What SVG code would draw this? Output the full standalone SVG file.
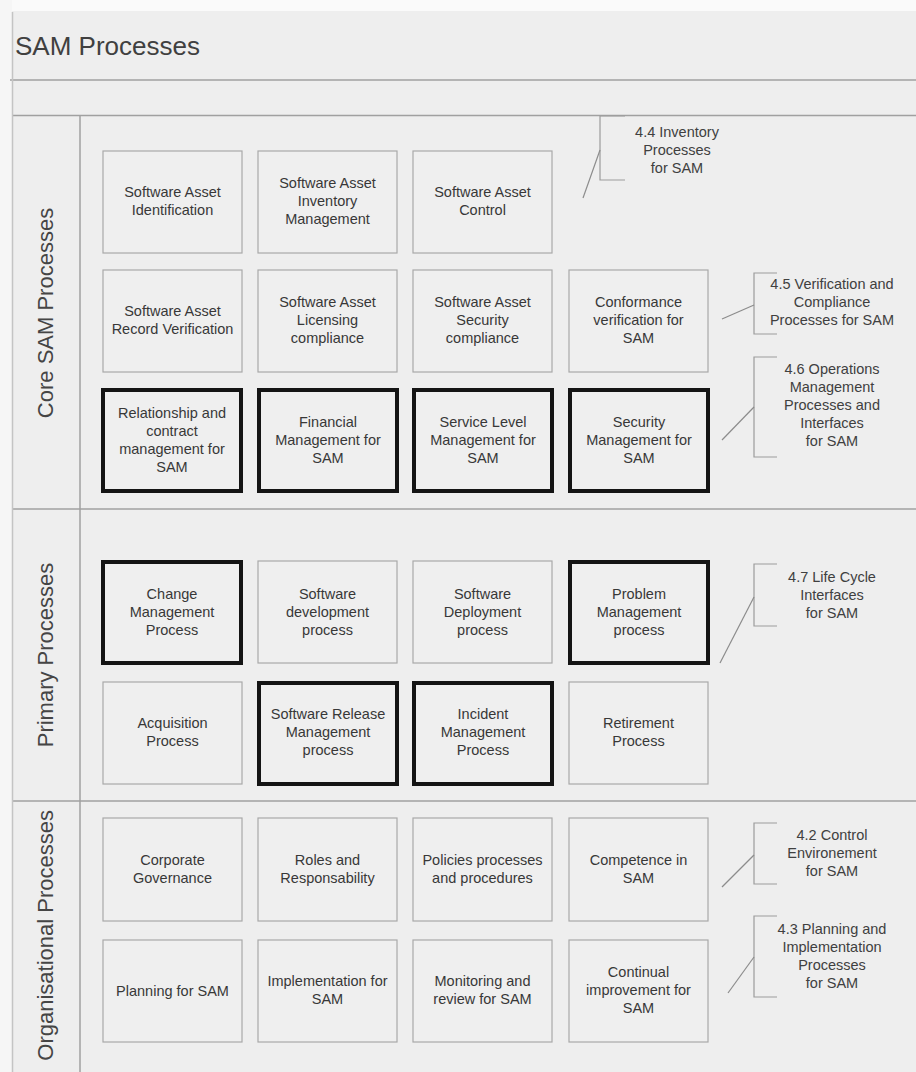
<svg xmlns="http://www.w3.org/2000/svg" width="916" height="1072" viewBox="0 0 916 1072">
<style>
  text { font-family: "Liberation Sans", Arial, sans-serif; }
  .title { font-size: 26px; fill: #404040; }
  .sec { font-size: 22px; fill: #454545; text-anchor: middle; }
  .frame { stroke: #a0a0a0; stroke-width: 1.5; fill: none; }
  .box { fill: #efefef; stroke: #a9a9a9; stroke-width: 1.2; }
  .bold { fill: #efefef; stroke: #141414; stroke-width: 4; }
  .lbl { font-size: 14.5px; fill: #383838; text-anchor: middle; }
  .ann { font-size: 14.5px; fill: #404040; text-anchor: middle; }
  .brk { stroke: #9c9c9c; stroke-width: 1.2; fill: none; }
  .conn { stroke: #8c8c8c; stroke-width: 1.2; fill: none; }
</style>
<rect x="0" y="0" width="916" height="1072" fill="#eeeeee"/>
<rect x="0" y="0" width="916" height="11" fill="#fafafa"/>
<rect x="0" y="0" width="12" height="1072" fill="#f6f6f6"/>

<g id="frame">
  <text class="title" x="15" y="55">SAM Processes</text>
  <line class="frame" x1="10" y1="80" x2="916" y2="80"/>
  <line class="frame" x1="12" y1="115.5" x2="916" y2="115.5"/>
  <line class="frame" x1="12" y1="509" x2="916" y2="509"/>
  <line class="frame" x1="12" y1="801" x2="916" y2="801"/>
  <line class="frame" x1="12.5" y1="12" x2="12.5" y2="1072" style="stroke:#c4c4c4"/>
  <line class="frame" x1="80" y1="115" x2="80" y2="1072"/>
</g>

<g id="sections">
  <text class="sec" transform="translate(53,313) rotate(-90)">Core SAM Processes</text>
  <text class="sec" transform="translate(53,655) rotate(-90)">Primary Processes</text>
  <text class="sec" style="text-anchor:end" transform="translate(53,810) rotate(-90)">Organisational Processes</text>
</g>

<!-- Core SAM Processes -->
<g id="n-sa-identification"><rect class="box" x="103" y="151" width="139" height="102"/>
  <text class="lbl" x="172.5" y="197">Software Asset</text><text class="lbl" x="172.5" y="215">Identification</text></g>
<g id="n-sa-inventory"><rect class="box" x="258" y="151" width="139" height="102"/>
  <text class="lbl" x="327.5" y="188">Software Asset</text><text class="lbl" x="327.5" y="206">Inventory</text><text class="lbl" x="327.5" y="224">Management</text></g>
<g id="n-sa-control"><rect class="box" x="413" y="151" width="139" height="102"/>
  <text class="lbl" x="482.5" y="197">Software Asset</text><text class="lbl" x="482.5" y="215">Control</text></g>

<g id="n-sa-record"><rect class="box" x="103" y="270" width="139" height="102"/>
  <text class="lbl" x="172.5" y="316">Software Asset</text><text class="lbl" x="172.5" y="334">Record Verification</text></g>
<g id="n-sa-licensing"><rect class="box" x="258" y="270" width="139" height="102"/>
  <text class="lbl" x="327.5" y="307">Software Asset</text><text class="lbl" x="327.5" y="325">Licensing</text><text class="lbl" x="327.5" y="343">compliance</text></g>
<g id="n-sa-security"><rect class="box" x="413" y="270" width="139" height="102"/>
  <text class="lbl" x="482.5" y="307">Software Asset</text><text class="lbl" x="482.5" y="325">Security</text><text class="lbl" x="482.5" y="343">compliance</text></g>
<g id="n-conformance"><rect class="box" x="569" y="270" width="139" height="102"/>
  <text class="lbl" x="638.5" y="307">Conformance</text><text class="lbl" x="638.5" y="325">verification for</text><text class="lbl" x="638.5" y="343">SAM</text></g>

<g id="n-relationship"><rect class="bold" x="103" y="390" width="138" height="101"/>
  <text class="lbl" x="172" y="418">Relationship and</text><text class="lbl" x="172" y="436">contract</text><text class="lbl" x="172" y="454">management for</text><text class="lbl" x="172" y="472">SAM</text></g>
<g id="n-financial"><rect class="bold" x="259" y="390" width="138" height="101"/>
  <text class="lbl" x="328" y="427">Financial</text><text class="lbl" x="328" y="445">Management for</text><text class="lbl" x="328" y="463">SAM</text></g>
<g id="n-service-level"><rect class="bold" x="414" y="390" width="138" height="101"/>
  <text class="lbl" x="483" y="427">Service Level</text><text class="lbl" x="483" y="445">Management for</text><text class="lbl" x="483" y="463">SAM</text></g>
<g id="n-security-mgmt"><rect class="bold" x="570" y="390" width="138" height="101"/>
  <text class="lbl" x="639" y="427">Security</text><text class="lbl" x="639" y="445">Management for</text><text class="lbl" x="639" y="463">SAM</text></g>

<!-- Primary Processes -->
<g id="n-change"><rect class="bold" x="103" y="562" width="138" height="101"/>
  <text class="lbl" x="172" y="599">Change</text><text class="lbl" x="172" y="617">Management</text><text class="lbl" x="172" y="635">Process</text></g>
<g id="n-sw-development"><rect class="box" x="258" y="561" width="139" height="102"/>
  <text class="lbl" x="327.5" y="599">Software</text><text class="lbl" x="327.5" y="617">development</text><text class="lbl" x="327.5" y="635">process</text></g>
<g id="n-sw-deployment"><rect class="box" x="413" y="561" width="139" height="102"/>
  <text class="lbl" x="482.5" y="599">Software</text><text class="lbl" x="482.5" y="617">Deployment</text><text class="lbl" x="482.5" y="635">process</text></g>
<g id="n-problem"><rect class="bold" x="570" y="562" width="138" height="101"/>
  <text class="lbl" x="639" y="599">Problem</text><text class="lbl" x="639" y="617">Management</text><text class="lbl" x="639" y="635">process</text></g>

<g id="n-acquisition"><rect class="box" x="103" y="682" width="139" height="102"/>
  <text class="lbl" x="172.5" y="728">Acquisition</text><text class="lbl" x="172.5" y="746">Process</text></g>
<g id="n-sw-release"><rect class="bold" x="259" y="683" width="138" height="101"/>
  <text class="lbl" x="328" y="719">Software Release</text><text class="lbl" x="328" y="737">Management</text><text class="lbl" x="328" y="755">process</text></g>
<g id="n-incident"><rect class="bold" x="414" y="683" width="138" height="101"/>
  <text class="lbl" x="483" y="719">Incident</text><text class="lbl" x="483" y="737">Management</text><text class="lbl" x="483" y="755">Process</text></g>
<g id="n-retirement"><rect class="box" x="569" y="682" width="139" height="102"/>
  <text class="lbl" x="638.5" y="728">Retirement</text><text class="lbl" x="638.5" y="746">Process</text></g>

<!-- Organisational Processes -->
<g id="n-governance"><rect class="box" x="103" y="818" width="139" height="103"/>
  <text class="lbl" x="172.5" y="865">Corporate</text><text class="lbl" x="172.5" y="883">Governance</text></g>
<g id="n-roles"><rect class="box" x="258" y="818" width="139" height="103"/>
  <text class="lbl" x="327.5" y="865">Roles and</text><text class="lbl" x="327.5" y="883">Responsability</text></g>
<g id="n-policies"><rect class="box" x="413" y="818" width="139" height="103"/>
  <text class="lbl" x="482.5" y="865">Policies processes</text><text class="lbl" x="482.5" y="883">and procedures</text></g>
<g id="n-competence"><rect class="box" x="569" y="818" width="139" height="103"/>
  <text class="lbl" x="638.5" y="865">Competence in</text><text class="lbl" x="638.5" y="883">SAM</text></g>

<g id="n-planning"><rect class="box" x="103" y="940" width="139" height="102"/>
  <text class="lbl" x="172.5" y="996">Planning for SAM</text></g>
<g id="n-implementation"><rect class="box" x="258" y="940" width="139" height="102"/>
  <text class="lbl" x="327.5" y="986">Implementation for</text><text class="lbl" x="327.5" y="1004">SAM</text></g>
<g id="n-monitoring"><rect class="box" x="413" y="940" width="139" height="102"/>
  <text class="lbl" x="482.5" y="986">Monitoring and</text><text class="lbl" x="482.5" y="1004">review for SAM</text></g>
<g id="n-continual"><rect class="box" x="569" y="940" width="139" height="102"/>
  <text class="lbl" x="638.5" y="977">Continual</text><text class="lbl" x="638.5" y="995">improvement for</text><text class="lbl" x="638.5" y="1013">SAM</text></g>

<!-- Annotations -->
<g id="a-4-4"><path class="brk" d="M625,116 H600 V180 H625"/>
  <text class="ann" x="677" y="137">4.4 Inventory</text><text class="ann" x="677" y="155">Processes</text><text class="ann" x="677" y="173">for SAM</text></g>
<g id="a-4-5"><path class="brk" d="M777,273 H754 V334 H777"/>
  <text class="ann" x="832" y="289">4.5 Verification and</text><text class="ann" x="832" y="307">Compliance</text><text class="ann" x="832" y="325">Processes for SAM</text></g>
<g id="a-4-6"><path class="brk" d="M777,357 H754 V457 H777"/>
  <text class="ann" x="832" y="374">4.6 Operations</text><text class="ann" x="832" y="392">Management</text><text class="ann" x="832" y="410">Processes and</text><text class="ann" x="832" y="428">Interfaces</text><text class="ann" x="832" y="446">for SAM</text></g>
<g id="a-4-7"><path class="brk" d="M777,564 H754 V626 H777"/>
  <text class="ann" x="832" y="582">4.7 Life Cycle</text><text class="ann" x="832" y="600">Interfaces</text><text class="ann" x="832" y="618">for SAM</text></g>
<g id="a-4-2"><path class="brk" d="M777,823 H754 V884 H777"/>
  <text class="ann" x="832" y="840">4.2 Control</text><text class="ann" x="832" y="858">Environement</text><text class="ann" x="832" y="876">for SAM</text></g>
<g id="a-4-3"><path class="brk" d="M777,916 H754 V997 H777"/>
  <text class="ann" x="832" y="934">4.3 Planning and</text><text class="ann" x="832" y="952">Implementation</text><text class="ann" x="832" y="970">Processes</text><text class="ann" x="832" y="988">for SAM</text></g>

<g id="connectors">
  <line class="conn" x1="583" y1="198" x2="600" y2="150"/>
  <line class="conn" x1="722" y1="319" x2="754" y2="305"/>
  <line class="conn" x1="722" y1="440" x2="754" y2="407"/>
  <line class="conn" x1="720" y1="663" x2="754" y2="597"/>
  <line class="conn" x1="722" y1="887" x2="754" y2="855"/>
  <line class="conn" x1="728" y1="993" x2="754" y2="957"/>
</g>
</svg>
